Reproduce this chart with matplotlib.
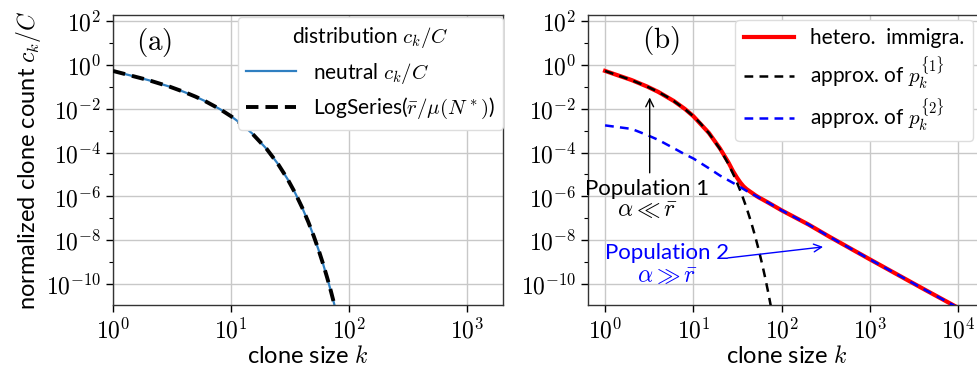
"""
Clone size distributions: (a) neutral vs LogSeries, (b) heterogeneous immigration.
"""
import numpy as np
import matplotlib
matplotlib.use("Agg")
import matplotlib.pyplot as plt
from matplotlib.ticker import FixedLocator, NullFormatter

plt.rcParams.update({
    "font.family": ["Lato", "DejaVu Sans"],
    "mathtext.fontset": "cm",
    "font.size": 16,
    "axes.linewidth": 1.0,
    "axes.edgecolor": "#333333",
})

# --- data ---
# population 1 / neutral log-series curve
k_pop1 = [1, 2, 3, 4, 5, 6, 8, 10, 12, 15, 20, 25, 30, 35, 40, 45, 50, 55, 60, 65, 70, 75, 80]
p_pop1 = [5.32e-1, 2.02e-1, 1.03e-1, 5.85e-2, 3.56e-2, 2.25e-2, 9.75e-3, 4.51e-3, 2.17e-3,
          7.62e-4, 1.45e-4, 2.94e-5, 6.21e-6, 1.35e-6, 2.99e-7, 6.75e-8, 1.54e-8, 3.55e-9,
          8.24e-10, 1.93e-10, 4.54e-11, 1.07e-11, 2.55e-12]

# population 2 approximation
k_pop2 = [1, 2, 3, 4, 6, 8, 10, 15, 20, 30, 40, 55, 70, 100, 200, 350, 500, 1000, 2000,
          4000, 8000, 12000]
p_pop2 = [1.74e-3, 1.20e-3, 6.31e-4, 3.80e-4, 1.58e-4, 8.32e-5, 5.37e-5, 1.91e-5, 8.91e-6,
          3.55e-6, 1.78e-6, 8.91e-7, 5.25e-7, 2.29e-7, 5.25e-8, 1.41e-8, 6.31e-9, 1.32e-9,
          2.82e-10, 6.03e-11, 1.32e-11, 5.37e-12]

# heterogeneous immigration (full)
k_het = [1, 2, 3, 4, 6, 8, 10, 15, 20, 25, 28, 31, 34, 37, 40, 43, 46, 50, 55, 60, 70, 80,
         100, 200, 350, 500, 1000, 2000, 4000, 8000, 12000]
p_het = [5.34e-1, 2.04e-1, 1.03e-1, 5.89e-2, 2.26e-2, 9.84e-3, 4.56e-3, 7.82e-4, 1.54e-4,
         3.48e-5, 1.45e-5, 7.40e-6, 4.30e-6, 2.85e-6, 2.15e-6, 1.75e-6, 1.45e-6, 1.14e-6,
         8.95e-7, 7.43e-7, 5.25e-7, 3.85e-7, 2.29e-7, 5.25e-8, 1.41e-8, 6.31e-9, 1.32e-9,
         2.82e-10, 6.03e-11, 1.32e-11, 5.37e-12]

YLIM = (1.1e-11, 190)
y_major = [1e-10, 1e-8, 1e-6, 1e-4, 1e-2, 1e0, 1e2]
y_minor = [1e-11, 1e-9, 1e-7, 1e-5, 1e-3, 1e-1, 1e1]
y_labels = [r"$10^{-10}$", r"$10^{-8}$", r"$10^{-6}$", r"$10^{-4}$", r"$10^{-2}$",
            r"$10^{0}$", r"$10^{2}$"]


def style_axes(ax, xticks, xlabels):
    ax.set_xscale("log")
    ax.set_yscale("log")
    ax.set_ylim(*YLIM)
    ax.yaxis.set_major_locator(FixedLocator(y_major))
    ax.yaxis.set_minor_locator(FixedLocator(y_minor))
    ax.yaxis.set_minor_formatter(NullFormatter())
    ax.set_yticklabels(y_labels)
    ax.xaxis.set_major_locator(FixedLocator(xticks))
    ax.xaxis.set_minor_locator(FixedLocator([]))
    ax.set_xticklabels(xlabels)
    ax.tick_params(axis="both", which="major", labelsize=17, length=5, width=1)
    ax.tick_params(axis="both", which="minor", length=3, width=0.8)
    ax.grid(True, which="major", color="#c8c8c8", linewidth=1.0)
    ax.set_axisbelow(True)
    ax.set_xlabel(r"clone size $k$", fontsize=17, labelpad=2)


fig = plt.figure(figsize=(9.77, 3.67), dpi=100)
ax1 = fig.add_axes([0.1157, 0.169, 0.3991, 0.790])
ax2 = fig.add_axes([0.6018, 0.169, 0.4063, 0.790])

# (a)
ax1.plot(k_pop1, p_pop1, color="#2f7fc1", lw=1.6, label=r"neutral $c_k/C$", zorder=2)
ax1.plot(k_pop1, p_pop1, color="black", lw=2.8, ls=(0, (3.2, 1.8)),
         label=r"LogSeries($\bar{r}/\mu(N^*)$)", zorder=3)
ax1.set_xlim(1, 2000)
style_axes(ax1, [1, 10, 100, 1000],
           [r"$10^{0}$", r"$10^{1}$", r"$10^{2}$", r"$10^{3}$"])
ax1.set_ylabel(r"normalized clone count $c_k/C$", fontsize=17, labelpad=2)
ax1.text(0.058, 0.905, r"$\mathrm{(a)}$", transform=ax1.transAxes, fontsize=21,
         va="center", ha="left")
leg1 = ax1.legend(title=r"distribution $c_k/C$", fontsize=15, title_fontsize=15,
                  loc="upper right", bbox_to_anchor=(0.5148, 0.9537),
                  bbox_transform=fig.transFigure, borderaxespad=0,
                  handlelength=2.4, framealpha=1, edgecolor="#dddddd", fancybox=True)

# (b)
ax2.plot(k_het, p_het, color="#ff0000", lw=3.0, label="hetero.  immigra.", zorder=2)
ax2.plot(k_pop1, p_pop1, color="black", lw=1.8, ls=(0, (3.5, 2.5)),
         label=r"approx. of $p_k^{\{1\}}$", zorder=3)
ax2.plot(k_pop2, p_pop2, color="#0000ff", lw=1.8, ls=(0, (3.5, 2.5)),
         label=r"approx. of $p_k^{\{2\}}$", zorder=3)
ax2.set_xlim(0.64, 2.0e4)
style_axes(ax2, [1, 10, 100, 1000, 10000],
           [r"$10^{0}$", r"$10^{1}$", r"$10^{2}$", r"$10^{3}$", r"$10^{4}$"])
ax2.text(0.135, 0.912, r"$\mathrm{(b)}$", transform=ax2.transAxes, fontsize=21,
         va="center", ha="left")
leg2 = ax2.legend(fontsize=15, loc="upper right", bbox_to_anchor=(0.9959, 0.9455),
                  bbox_transform=fig.transFigure, borderaxespad=0,
                  handlelength=2.4, labelspacing=0.3, framealpha=1,
                  edgecolor="#dddddd", fancybox=True)

# annotations
ax2.annotate("", xy=(3.2, 0.044), xytext=(3.2, 8.9e-6),
             arrowprops=dict(arrowstyle="->", lw=1.0, color="black", mutation_scale=14))
ax2.text(3.0, 2.2e-6, "Population 1", ha="center", va="center", fontsize=16)
ax2.text(3.0, 2.2e-7, r"$\alpha \ll \bar{r}$", ha="center", va="center", fontsize=17)
ax2.annotate("", xy=(316, 5.1e-9), xytext=(22.9, 1.5e-9),
             arrowprops=dict(arrowstyle="->", lw=1.0, color="#0000ff", mutation_scale=14))
ax2.text(5.0, 2.5e-9, "Population 2", ha="center", va="center", fontsize=16,
         color="#0000ff")
ax2.text(5.0, 2.3e-10, r"$\alpha \gg \bar{r}$", ha="center", va="center", fontsize=17,
         color="#0000ff")

fig.savefig("out.png", dpi=100)
